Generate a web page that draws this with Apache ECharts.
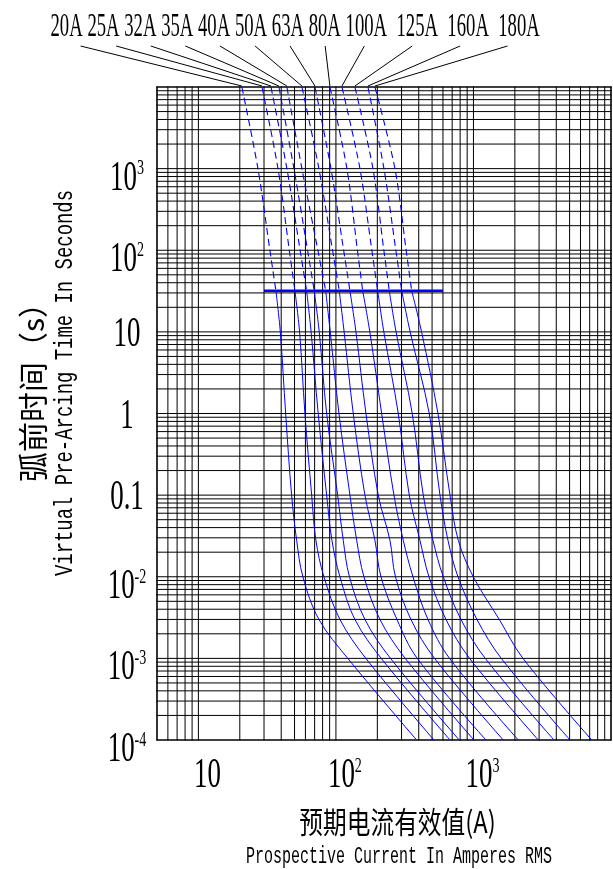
<!DOCTYPE html>
<html><head><meta charset="utf-8">
<script src="https://cdn.jsdelivr.net/npm/echarts@6/dist/echarts.min.js"></script>
<style>html,body{margin:0;padding:0;background:#fff;}#c{width:613px;height:869px;}</style>
</head><body><div id="c"></div>
<script>
// ---------- data ----------
const ratings = ['20A','25A','32A','35A','40A','50A','63A','80A','100A','125A','160A','180A'];
// time levels (s); points 0..3 are dashed, 3..end solid
const times = [10000, 1000, 100, 32, 10, 1, 0.1, 0.028, 0.01, 0.003, 0.001, 0.0001];
const SPLIT = 3;
const c20  = [20.7, 27.1, 33.1, 36.6, 39.4, 43.1, 47.6, 51.8, 57.5, 75.2, 122, 386];
const c25  = [29.0, 37.9, 45.8, 50.3, 54.4, 59.5, 66.6, 71.5, 81.8, 106.9, 165, 516];
const c32  = [33.7, 44.0, 54.9, 61.2, 66.0, 74.3, 85.6, 93.5, 106.9, 137.4, 213.6, 675];
const c35  = [38.5, 49.5, 62.2, 69.5, 75.6, 85.6, 102.9, 113, 125.4, 162.5, 249.5, 788];
const c40  = [44.0, 56.6, 73.9, 84.2, 90.9, 105.2, 126.4, 141.5, 159.8, 208.9, 319, 1008];
const c50  = [56.6, 75.2, 94.5, 105.7, 114.7, 133.6, 162.5, 192.1, 212.5, 277.7, 390, 1233];
const c63  = [70.4, 92.0, 113.8, 126.4, 139.8, 165.3, 203.1, 247, 270.8, 351, 521, 1647];
const c80  = [90.4, 120.2, 143.3, 156.4, 176.4, 215, 264.1, 308.7, 363.1, 466.8, 670, 2118];
const c100 = [110.6, 149.5, 182.4, 201.1, 223, 283.9, 341.3, 408.2, 474.7, 631, 937, 2960];
const c125 = [137.4, 185.8, 223, 244.2, 273.6, 358.8, 431.4, 507.6, 603, 811, 1218, 3850];
const c160 = [170.9, 223.4, 272.7, 300.5, 346.4, 477, 570.7, 652.5, 771.6, 1060, 1593, 5033];
const c180 = [192.1, 268.6, 324, 355.2, 419.4, 551.8, 675, 775.5, 996.6, 1540, 2291, 7240];
const curves = [c20, c25, c32, c35, c40, c50, c63, c80, c100, c125, c160, c180];
const limitLine = [[30, 32], [600, 32]];

const X_MIN = 5, X_MAX = 10000, Y_MIN = 0.0001, Y_MAX = 10000;
const mantissas = [1,2,3,4,5,6,7,8,9];
const xDecades = [1, 10, 100, 1000];
const yDecades = [0.0001, 0.001, 0.01, 0.1, 1, 10, 100, 1000];

const xTickValues = [10, 100, 1000];
const xTickBase = ['10', '10', '10'];
const xTickExp  = ['', '2', '3'];
const yTickValues = [1000, 100, 10, 1, 0.1, 0.01, 0.001, 0.0001];
const yTickBase = ['10', '10', '10', '1', '0.1', '10', '10', '10'];
const yTickExp  = ['3', '2', '', '', '', '-2', '-3', '-4'];

// ---------- grid values ----------
const xGrid = [];
xDecades.forEach(d => mantissas.forEach(m => { const v = +(m * d).toPrecision(6); if (v >= X_MIN) xGrid.push(v); }));
xGrid.push(X_MAX);
const yGrid = [];
yDecades.forEach(d => mantissas.forEach(m => { yGrid.push(+(m * d).toPrecision(6)); }));
yGrid.push(Y_MAX);

const BLUE = '#0000ff';
const SERIF = '"Liberation Serif", "Times New Roman", serif';

const chart = echarts.init(document.getElementById('c'), null, {renderer: 'canvas'});

function labelRich(base, exp) {
  return exp ? '{b|' + base + '}{s|' + exp + '}' : '{b|' + base + '}';
}
const richDef = {
  b: {fontSize: 42, fontFamily: SERIF, lineHeight: 42, fill: '#000'},
  s: {fontSize: 22, fontFamily: SERIF, lineHeight: 42, verticalAlign: 'top', fill: '#000'}
};

const series = [];
// vertical grid lines
series.push({
  type: 'custom', silent: true, z: 1, clip: false,
  data: xGrid.map(v => [v, Y_MIN]), encode: {x: 0, y: 1},
  renderItem: (params, api) => {
    const v = api.value(0);
    const a = api.coord([v, Y_MIN]), b = api.coord([v, Y_MAX]);
    const border = (v === X_MIN || v === X_MAX);
    return {type: 'line', shape: {x1: a[0], y1: a[1] + 0.5, x2: b[0], y2: b[1] - 0.5},
      style: {stroke: '#000', lineWidth: border ? 1.6 : 1}};
  }
});
// horizontal grid lines
series.push({
  type: 'custom', silent: true, z: 1, clip: false,
  data: yGrid.map(v => [X_MIN, v]), encode: {x: 0, y: 1},
  renderItem: (params, api) => {
    const v = api.value(1);
    const a = api.coord([X_MIN, v]), b = api.coord([X_MAX, v]);
    const border = (v === Y_MIN || v === Y_MAX);
    return {type: 'line', shape: {x1: a[0] - 0.5, y1: a[1], x2: b[0] + 0.5, y2: b[1]},
      style: {stroke: '#000', lineWidth: border ? 1.6 : 1}};
  }
});
// y tick labels
series.push({
  type: 'custom', silent: true, z: 5, clip: false,
  data: yTickValues.map(v => [X_MIN, v]), encode: {x: 0, y: 1},
  renderItem: (params, api) => {
    const i = params.dataIndex;
    const p = api.coord([X_MIN, yTickValues[i]]);
    const dy = yTickExp[i] ? 10 : 3;
    return {type: 'text', x: p[0] - 30, y: p[1] + dy, scaleX: 0.64,
      style: {text: labelRich(yTickBase[i], yTickExp[i]), rich: richDef, fill: '#000',
        align: 'center', verticalAlign: 'middle'}};
  }
});
// x tick labels
series.push({
  type: 'custom', silent: true, z: 5, clip: false,
  data: xTickValues.map(v => [v, Y_MIN]), encode: {x: 0, y: 1},
  renderItem: (params, api) => {
    const i = params.dataIndex;
    const p = api.coord([xTickValues[i], Y_MIN]);
    return {type: 'text', x: p[0] + 9, y: p[1] + 36, scaleX: 0.64,
      style: {text: labelRich(xTickBase[i], xTickExp[i]), rich: richDef, fill: '#000',
        align: 'center', verticalAlign: 'middle'}};
  }
});
// curves
curves.forEach((cur, k) => {
  const pts = times.map((t, i) => [cur[i], t]);
  series.push({type: 'line', name: ratings[k], data: pts.slice(0, SPLIT + 1), symbol: 'none', smooth: 0.3,
    silent: true, z: 3, lineStyle: {color: BLUE, width: 1.1, type: [7, 4]}});
  series.push({type: 'line', name: ratings[k], data: pts.slice(SPLIT), symbol: 'none', smooth: 0.35,
    silent: true, z: 3, lineStyle: {color: BLUE, width: 1, type: 'solid'}});
});
series.push({type: 'line', data: limitLine, symbol: 'none', silent: true, z: 4,
  lineStyle: {color: BLUE, width: 2.5}});

chart.setOption({
  animation: false,
  backgroundColor: '#fff',
  grid: {left: 157, top: 87, width: 454, height: 653, show: false},
  xAxis: {type: 'log', logBase: 10, min: X_MIN, max: X_MAX,
    axisLine: {show: false}, axisTick: {show: false}, axisLabel: {show: false}, splitLine: {show: false}},
  yAxis: {type: 'log', logBase: 10, min: Y_MIN, max: Y_MAX,
    axisLine: {show: false}, axisTick: {show: false}, axisLabel: {show: false}, splitLine: {show: false}},
  series: series
});

// ---------- annotations: curve labels with leader lines, axis titles ----------
const ctx = document.createElement('canvas').getContext('2d');
const LBL_FS = 34, LBL_SX = 0.55;
ctx.font = LBL_FS + 'px ' + SERIF;
const spaceW = ctx.measureText(' ').width * LBL_SX;
let cursor = 50.5;
const graphics = [];
ratings.forEach((r, i) => {
  const w = ctx.measureText(r).width * LBL_SX;
  const cx = cursor + w / 2;
  cursor += w + spaceW * (i >= 8 ? 2 : 1);
  graphics.push({type: 'text', x: cx, y: 27, scaleX: LBL_SX, silent: true,
    style: {text: r, font: LBL_FS + 'px ' + SERIF, fill: '#000', align: 'center', verticalAlign: 'middle',
      textAlign: 'center', textVerticalAlign: 'middle'}});
  const end = chart.convertToPixel({xAxisIndex: 0, yAxisIndex: 0}, [curves[i][0], times[0]]);
  const sx = cx + 0.08 * (end[0] - cx);
  graphics.push({type: 'line', silent: true, shape: {x1: sx, y1: 46, x2: end[0], y2: end[1] - 1},
    style: {stroke: '#000', lineWidth: 1}});
});
graphics.push({type: 'text', x: 33, y: 385, rotation: Math.PI / 2, silent: true,
  style: {text: '弧前时间（s）', font: '30px "Noto Sans CJK SC"', fill: '#000', align: 'center', verticalAlign: 'middle',
    textAlign: 'center', textVerticalAlign: 'middle'}});
graphics.push({type: 'text', x: 65, y: 383, rotation: Math.PI / 2, scaleX: 0.757, silent: true,
  style: {text: 'Virtual Pre-Arcing Time In Seconds', font: '25px "Liberation Mono"', fill: '#000', align: 'center', verticalAlign: 'middle',
    textAlign: 'center', textVerticalAlign: 'middle'}});
graphics.push({type: 'text', x: 397.5, y: 822, scaleX: 0.79, silent: true,
  style: {text: '预期电流有效值(A)', font: '30px "Noto Sans CJK SC"', fill: '#000', align: 'center', verticalAlign: 'middle',
    textAlign: 'center', textVerticalAlign: 'middle'}});
graphics.push({type: 'text', x: 399, y: 857, scaleX: 0.625, silent: true,
  style: {text: 'Prospective Current In Amperes RMS', font: '24px "Liberation Mono"', fill: '#000', align: 'center', verticalAlign: 'middle',
    textAlign: 'center', textVerticalAlign: 'middle'}});
chart.setOption({graphic: {elements: graphics}});
</script>
</body></html>
